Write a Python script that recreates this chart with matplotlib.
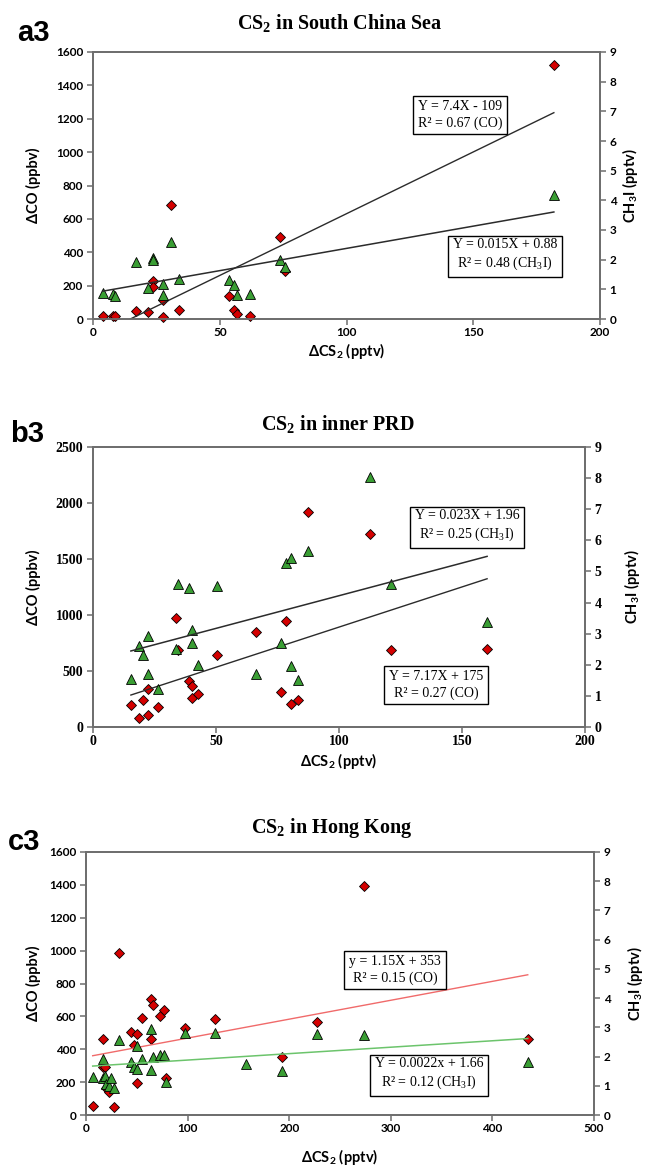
import numpy as np
import matplotlib
matplotlib.use("Agg")
import matplotlib.pyplot as plt

# ---- data ----
# a3: South China Sea (same samples for CO and CH3I)
scs_cs2 = [3.8, 7.8, 8.6, 16.9, 21.8, 23.8, 23.8, 27.8, 27.8, 30.8, 33.8,
           53.8, 55.8, 56.9, 61.8, 73.8, 75.8, 181.8]
scs_co = [20, 20, 20, 46, 42, 226, 192, 116, 14, 686, 54,
          140, 52, 32, 16, 492, 290, 1522]
scs_ch3i = [0.88, 0.85, 0.76, 1.92, 1.05, 2.06, 2.0, 1.18, 0.82, 2.6, 1.35,
            1.33, 1.14, 0.8, 0.85, 2.0, 1.75, 4.17]

# b3: inner PRD
prd_co_cs2 = [15.4, 18.5, 20.3, 22.4, 22.4, 26.3, 33.6, 34.6, 39.2, 40.4, 40.4,
              42.5, 50.5, 66.4, 76.5, 78.5, 80.3, 83.3, 87.3, 112.4, 121.2, 160.2]
prd_co = [199, 80, 238, 104, 342, 179, 976, 685, 408, 366, 259,
          292, 646, 848, 310, 943, 202, 241, 1920, 1726, 690, 696]
prd_ch3i_cs2 = [15.4, 18.5, 20.3, 22.4, 22.4, 26.3, 33.6, 34.6, 39.2, 40.4, 40.4,
                42.5, 50.5, 66.4, 76.5, 78.5, 80.3, 80.3, 83.3, 87.3, 112.4, 121.2, 160.2]
prd_ch3i = [1.55, 2.6, 2.3, 2.92, 1.69, 1.22, 2.52, 4.6, 4.48, 3.11, 2.7,
            2.0, 4.53, 1.69, 2.7, 5.27, 5.43, 1.96, 1.5, 5.66, 8.02, 4.59, 3.38]

# c3: Hong Kong
hk_co_cs2 = [6.6, 16.3, 16.3, 19.1, 19.8, 22.2, 27.4, 32.6, 44.7, 47.5, 50.3, 50.3,
             55.5, 64.1, 65.5, 64.1, 72.5, 77.0, 78.7, 97.8, 126.6, 193.1, 227.8,
             273.9, 434.8]
hk_co = [57, 461, 289, 289, 162, 137, 47, 983, 502, 425, 491, 194,
         589, 708, 667, 461, 603, 637, 224, 532, 583, 350, 568, 1392, 465]
hk_ch3i_cs2 = [6.6, 16.3, 16.3, 19.1, 19.8, 22.2, 24.6, 27.4, 32.6, 44.7, 47.5,
               50.3, 50.3, 55.5, 64.1, 65.5, 64.1, 72.5, 77.0, 78.7, 97.8, 126.6,
               157.8, 193.1, 227.8, 273.9, 434.8]
hk_ch3i = [1.31, 1.93, 1.25, 1.34, 1.06, 1.0, 1.25, 0.91, 2.57, 1.8, 1.65,
           2.37, 1.59, 1.91, 2.94, 1.99, 1.54, 2.06, 2.05, 1.14, 2.79, 2.82,
           1.74, 1.51, 2.76, 2.73, 1.82]

# regression lines (slope, intercept)
scs_co_fit = (7.4, -109)
scs_ch3i_fit = (0.015, 0.88)
prd_co_fit = (7.17, 175)
prd_ch3i_fit = (0.021, 2.12)
hk_co_fit = (1.15, 353)
hk_ch3i_fit = (0.0022, 1.66)

plt.rcParams["mathtext.fontset"] = "custom"
plt.rcParams["mathtext.rm"] = "Liberation Serif"
plt.rcParams["mathtext.bf"] = "Liberation Serif:bold"
plt.rcParams["mathtext.sf"] = "Lato:bold"

W, H = 648, 1168
RED = "#d40000"
GREEN = "#3a9e34"
SPINE = "#6e6e6e"
SANS = ["Lato", "DejaVu Sans"]
SERIF = ["Liberation Serif", "DejaVu Serif"]

fig = plt.figure(figsize=(W / 100, H / 100), dpi=100)


def px_rect(l, r, t, b):
    return [l / W, 1 - b / H, (r - l) / W, (b - t) / H]


def panel(box, co_x, co_y, ch_x, ch_y, co_fit, ch_fit, xmax, xstep,
          comax, costep, tick_family, tick_size, co_color, ch_color,
          ylab_x, ylab2_x, xlab_y):
    l, r, t, b = box
    ax = fig.add_axes(px_rect(l, r, t, b))
    ax2 = ax.twinx()

    ax.plot(co_x, co_y, "D", ms=4.6, mfc=RED, mec="black", mew=0.6,
            zorder=3, clip_on=False)
    ax2.plot(ch_x, ch_y, "^", ms=7.2, mfc=GREEN, mec="black", mew=0.6,
             zorder=3, clip_on=False)

    xx = np.array([min(co_x), max(co_x)])
    ax.plot(xx, co_fit[0] * xx + co_fit[1], color=co_color, lw=1.0, zorder=4)
    xx = np.array([min(ch_x), max(ch_x)])
    ax2.plot(xx, ch_fit[0] * xx + ch_fit[1], color=ch_color, lw=1.1, zorder=4)

    ax.set_xlim(0, xmax)
    ax.set_ylim(0, comax)
    ax2.set_ylim(0, 9)
    ax.set_xticks(np.arange(0, xmax + 1, xstep))
    ax.set_yticks(np.arange(0, comax + 1, costep))
    ax2.set_yticks(range(10))

    for a in (ax, ax2):
        for s in a.spines.values():
            s.set_color(SPINE)
            s.set_linewidth(1.3)
        a.tick_params(direction="out", length=4, width=1.1, color=SPINE,
                      labelsize=tick_size, pad=3)
        for lbl in a.get_xticklabels() + a.get_yticklabels():
            lbl.set_family(tick_family)
            lbl.set_fontweight("bold")
    ax.tick_params(axis="x", pad=2)

    ax.set_ylabel("\u0394CO (ppbv)", family=SANS, fontweight="bold", fontsize=10.5)
    ax2.set_ylabel("CH$_\\mathsf{3}$I (pptv)", family=SANS, fontweight="bold",
                   fontsize=10.5)
    ax.set_xlabel("\u0394CS$_\\mathsf{2}$ (pptv)", family=SANS, fontweight="bold",
                  fontsize=10.5)
    ax.yaxis.set_label_coords((ylab_x - l) / (r - l), 0.5)
    ax2.yaxis.set_label_coords((ylab2_x - l) / (r - l), 0.5)
    ax.xaxis.set_label_coords(0.5, (b - xlab_y) / (b - t))
    return ax, ax2


def eq_box(cx, cy, text):
    fig.text(cx / W, 1 - cy / H, text, ha="center", va="center",
             family=SERIF, fontsize=10, linespacing=1.25,
             bbox=dict(boxstyle="square,pad=0.35", fc="white", ec="black", lw=1.0))


def titles(label, lx, lbase, title, tx, tbase):
    fig.text(lx / W, 1 - lbase / H, label, ha="left", va="baseline",
             family="Liberation Sans", fontweight="bold", fontsize=21)
    fig.text(tx / W, 1 - tbase / H, title, ha="center", va="baseline",
             family=SERIF, fontweight="bold", fontsize=14.5)


# a3
panel((93, 600, 52, 319), scs_cs2, scs_co, scs_cs2, scs_ch3i,
      scs_co_fit, scs_ch3i_fit, 200, 50, 1600, 200, SANS, 8.5,
      "#2b2b2b", "#2b2b2b", 41, 620, 341)
titles("a3", 17, 41, "CS$_\\mathbf{2}$ in South China Sea", 340, 30)
eq_box(460, 115, "Y = 7.4X - 109\nR\u00b2 = 0.67 (CO)")
eq_box(505, 255, "Y = 0.015X + 0.88\nR\u00b2 = 0.48 (CH$_\\mathrm{3}$I)")

# b3
panel((93, 585, 447, 727), prd_co_cs2, prd_co, prd_ch3i_cs2, prd_ch3i,
      prd_co_fit, prd_ch3i_fit, 200, 50, 2500, 500, SERIF, 10,
      "#2b2b2b", "#2b2b2b", 41, 622, 751)
titles("b3", 10, 442, "CS$_\\mathbf{2}$ in inner PRD", 338, 431)
eq_box(467, 526, "Y = 0.023X + 1.96\nR\u00b2 = 0.25 (CH$_\\mathrm{3}$I)")
eq_box(436, 685, "Y = 7.17X + 175\nR\u00b2 = 0.27 (CO)")

# c3
panel((86, 594, 852, 1115), hk_co_cs2, hk_co, hk_ch3i_cs2, hk_ch3i,
      hk_co_fit, hk_ch3i_fit, 500, 100, 1600, 200, SANS, 8.5,
      "#f06a6a", "#6cc46c", 41, 625, 1147)
titles("c3", 8, 850, "CS$_\\mathbf{2}$ in Hong Kong", 332, 833)
eq_box(395, 970, "y = 1.15X + 353\nR\u00b2 = 0.15 (CO)")
eq_box(429, 1074, "Y = 0.0022x + 1.66\nR\u00b2 = 0.12 (CH$_\\mathrm{3}$I)")

fig.savefig("out.png", dpi=100, facecolor="white")
